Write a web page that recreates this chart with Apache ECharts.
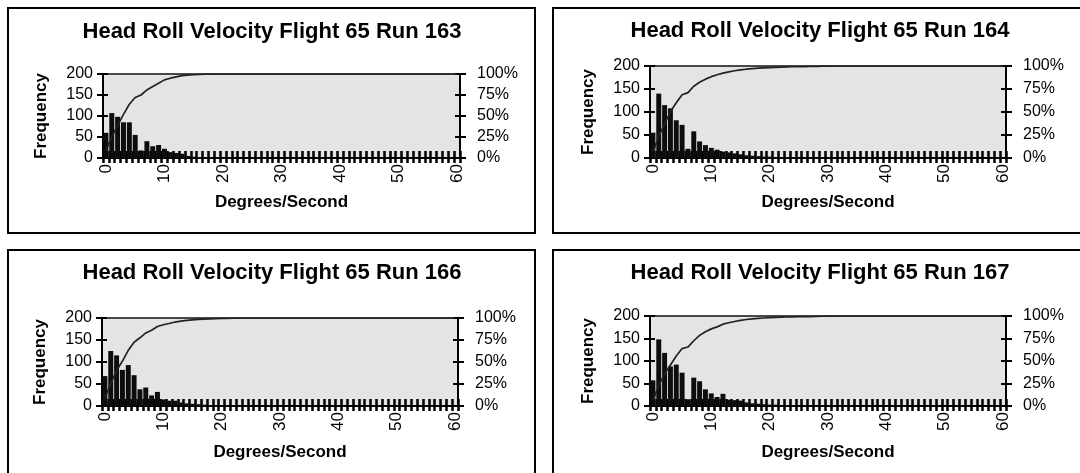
<!DOCTYPE html>
<html>
<head>
<meta charset="utf-8">
<script src="https://cdn.jsdelivr.net/npm/echarts@6/dist/echarts.min.js"></script>
<style>
  html, body { margin: 0; padding: 0; background: #fff; }
  #chart { width: 1080px; height: 473px; }
</style>
</head>
<body>
<div id="chart"></div>
<script>
// Degrees/second bins shared by all four histograms
const degrees = [
  '0','1','2','3','4','5','6','7','8','9',
  '10','11','12','13','14','15','16','17','18','19',
  '20','21','22','23','24','25','26','27','28','29',
  '30','31','32','33','34','35','36','37','38','39',
  '40','41','42','43','44','45','46','47','48','49',
  '50','51','52','53','54','55','56','57','58','59',
  '60'
];

const freqTicks = [0, 50, 100, 150, 200];
const pctTicks = [0, 25, 50, 75, 100];

// Run 163
const freq163 = [
  60, 107, 98, 85, 85, 55, 18, 40, 28, 31,
  22, 14, 12, 10, 5, 3, 2, 2, 1, 1,
  0, 0, 0, 0, 0, 0, 0, 0, 0, 0,
  0, 0, 0, 0, 0, 0, 0, 0, 0, 0,
  0, 0, 0, 0, 0, 0, 0, 0, 0, 0,
  0, 0, 0, 0, 0, 0, 0, 0, 0, 0,
  0
];
const cum163 = [
  9, 25, 39, 52, 64, 72, 75, 81, 85, 89,
  93, 95, 96.5, 98, 98.7, 99.1, 99.4, 99.7, 99.9, 100,
  100, 100, 100, 100, 100, 100, 100, 100, 100, 100,
  100, 100, 100, 100, 100, 100, 100, 100, 100, 100,
  100, 100, 100, 100, 100, 100, 100, 100, 100, 100,
  100, 100, 100, 100, 100, 100, 100, 100, 100, 100,
  100
];

// Run 164
const freq164 = [
  55, 140, 115, 108, 82, 72, 20, 58, 36, 28,
  22, 18, 14, 12, 10, 8, 6, 5, 4, 3,
  3, 2, 2, 2, 1, 1, 1, 1, 1, 1,
  1, 1, 0, 0, 0, 0, 0, 0, 0, 0,
  0, 0, 0, 0, 0, 0, 0, 0, 0, 0,
  0, 0, 0, 0, 0, 0, 0, 0, 0, 0,
  0
];
const cum164 = [
  6.6, 23.4, 37.2, 50.2, 60, 68.7, 71.1, 78, 82.4, 85.7,
  88.4, 90.5, 92.2, 93.6, 94.8, 95.8, 96.5, 97.1, 97.6, 98,
  98.3, 98.6, 98.8, 99, 99.2, 99.3, 99.4, 99.5, 99.6, 99.8,
  99.9, 100, 100, 100, 100, 100, 100, 100, 100, 100,
  100, 100, 100, 100, 100, 100, 100, 100, 100, 100,
  100, 100, 100, 100, 100, 100, 100, 100, 100, 100,
  100
];

// Run 166
const freq166 = [
  68, 125, 115, 82, 93, 70, 38, 42, 24, 32,
  15, 12, 12, 8, 6, 5, 4, 3, 2, 2,
  1, 1, 1, 1, 1, 0, 0, 0, 0, 0,
  0, 0, 0, 0, 0, 0, 0, 0, 0, 0,
  0, 0, 0, 0, 0, 0, 0, 0, 0, 0,
  0, 0, 0, 0, 0, 0, 0, 0, 0, 0,
  0
];
const cum166 = [
  8.9, 25.3, 40.4, 51.1, 63.3, 72.5, 77.5, 83, 86.1, 90.3,
  92.3, 93.8, 95.4, 96.5, 97.2, 97.9, 98.4, 98.8, 99.1, 99.3,
  99.5, 99.6, 99.7, 99.9, 100, 100, 100, 100, 100, 100,
  100, 100, 100, 100, 100, 100, 100, 100, 100, 100,
  100, 100, 100, 100, 100, 100, 100, 100, 100, 100,
  100, 100, 100, 100, 100, 100, 100, 100, 100, 100,
  100
];

// Run 167
const freq167 = [
  57, 148, 118, 88, 92, 74, 15, 63, 55, 37,
  28, 20, 27, 14, 13, 12, 8, 6, 5, 4,
  3, 3, 2, 2, 2, 1, 1, 1, 1, 1,
  1, 1, 1, 0, 0, 0, 0, 0, 0, 0,
  0, 0, 0, 0, 0, 0, 0, 0, 0, 0,
  0, 0, 0, 0, 0, 0, 0, 0, 0, 0,
  0
];
const cum167 = [
  6.3, 22.7, 35.7, 45.5, 55.6, 63.8, 65.5, 72.5, 78.5, 82.6,
  85.7, 87.9, 90.9, 92.5, 93.9, 95.2, 96.1, 96.8, 97.3, 97.8,
  98.1, 98.5, 98.7, 98.9, 99.1, 99.2, 99.3, 99.4, 99.6, 99.7,
  99.8, 99.9, 100, 100, 100, 100, 100, 100, 100, 100,
  100, 100, 100, 100, 100, 100, 100, 100, 100, 100,
  100, 100, 100, 100, 100, 100, 100, 100, 100, 100,
  100
];

const FONT = '"Liberation Sans", Arial, sans-serif';

// panel layout: border box, plot area, title centre
const panels = [
  { title: 'Head Roll Velocity Flight 65 Run 163', freq: freq163, cum: cum163,
    box: [8, 8, 527, 225], plot: [103, 74, 357, 84], titleAt: [272, 32], xGap: 36 },
  { title: 'Head Roll Velocity Flight 65 Run 164', freq: freq164, cum: cum164,
    box: [553, 8, 540, 225], plot: [650, 66, 356, 92], titleAt: [820, 31], xGap: 36 },
  { title: 'Head Roll Velocity Flight 65 Run 166', freq: freq166, cum: cum166,
    box: [8, 250, 527, 230], plot: [102, 318, 356, 88], titleAt: [272, 273], xGap: 38 },
  { title: 'Head Roll Velocity Flight 65 Run 167', freq: freq167, cum: cum167,
    box: [553, 250, 540, 230], plot: [650, 316, 356, 90], titleAt: [820, 273], xGap: 38 }
];

const black = { color: '#000', width: 2 };
const tickLine = { color: '#000', width: 2.5 };
const labelStyle = { fontFamily: FONT, fontSize: 16, color: '#000' };
const nameStyle = { fontFamily: FONT, fontSize: 17, fontWeight: 'bold', color: '#000' };

const option = {
  animation: false,
  backgroundColor: '#fff',
  grid: [], xAxis: [], yAxis: [], series: [], graphic: []
};

panels.forEach((p, i) => {
  option.grid.push({
    left: p.plot[0], top: p.plot[1], width: p.plot[2], height: p.plot[3],
    show: true, backgroundColor: '#e4e4e4', borderColor: '#111', borderWidth: 1.5
  });

  const xi = option.xAxis.length;
  option.xAxis.push({
    gridIndex: i, type: 'category', position: 'bottom', data: degrees,
    name: 'Degrees/Second', nameLocation: 'middle', nameGap: p.xGap, nameTextStyle: nameStyle,
    axisLine: { show: true, lineStyle: black },
    axisTick: { show: true, interval: 0, alignWithLabel: false, length: 5, lineStyle: tickLine },
    axisLabel: Object.assign({ show: true, interval: 9, rotate: 90, margin: 6 }, labelStyle, { fontSize: 17 }),
    splitLine: { show: false }
  });
  // inner half of the crossing tick marks
  option.xAxis.push({
    gridIndex: i, type: 'category', position: 'bottom', data: degrees,
    axisLine: { show: false },
    axisTick: { show: true, interval: 0, alignWithLabel: false, inside: true, length: 7, lineStyle: tickLine },
    axisLabel: { show: false },
    splitLine: { show: false }
  });

  const yi = option.yAxis.length;
  option.yAxis.push({
    gridIndex: i, type: 'value', position: 'left',
    min: freqTicks[0], max: freqTicks[freqTicks.length - 1], interval: freqTicks[1] - freqTicks[0],
    name: 'Frequency', nameLocation: 'middle', nameRotate: 90, nameGap: 53, nameTextStyle: nameStyle,
    axisLine: { show: true, lineStyle: black },
    axisTick: { show: true, length: 6, lineStyle: black },
    axisLabel: Object.assign({ margin: 10 }, labelStyle),
    splitLine: { show: false }
  });
  option.yAxis.push({
    gridIndex: i, type: 'value', position: 'right',
    min: pctTicks[0], max: pctTicks[pctTicks.length - 1], interval: pctTicks[1] - pctTicks[0],
    axisLine: { show: true, lineStyle: black },
    axisTick: { show: true, length: 6, lineStyle: black },
    axisLabel: Object.assign({ margin: 17, formatter: '{value}%' }, labelStyle),
    splitLine: { show: false }
  });
  option.yAxis.push({
    gridIndex: i, type: 'value', position: 'left', min: 0, max: 200, interval: 50,
    axisLine: { show: false }, axisTick: { show: true, inside: true, length: 5, lineStyle: black },
    axisLabel: { show: false }, splitLine: { show: false }
  });
  option.yAxis.push({
    gridIndex: i, type: 'value', position: 'right', min: 0, max: 100, interval: 25,
    axisLine: { show: false }, axisTick: { show: true, inside: true, length: 5, lineStyle: black },
    axisLabel: { show: false }, splitLine: { show: false }
  });

  option.series.push({
    type: 'bar', xAxisIndex: xi, yAxisIndex: yi, data: p.freq,
    barCategoryGap: '15%',
    itemStyle: { color: '#0d0d0d' }
  });
  option.series.push({
    type: 'line', xAxisIndex: xi, yAxisIndex: yi + 1, data: p.cum,
    showSymbol: false, z: 5,
    lineStyle: { color: '#222', width: 1.7 }
  });

  option.graphic.push({
    type: 'rect', silent: true,
    shape: { x: p.box[0], y: p.box[1], width: p.box[2], height: p.box[3] },
    style: { fill: 'none', stroke: '#000', lineWidth: 2 }
  });
  option.graphic.push({
    type: 'text', silent: true, x: p.titleAt[0], y: p.titleAt[1],
    style: {
      text: p.title, fill: '#000', font: 'bold 22px ' + FONT,
      textAlign: 'center', textVerticalAlign: 'middle'
    }
  });
});

const chart = echarts.init(document.getElementById('chart'));
chart.setOption(option);
</script>
</body>
</html>
